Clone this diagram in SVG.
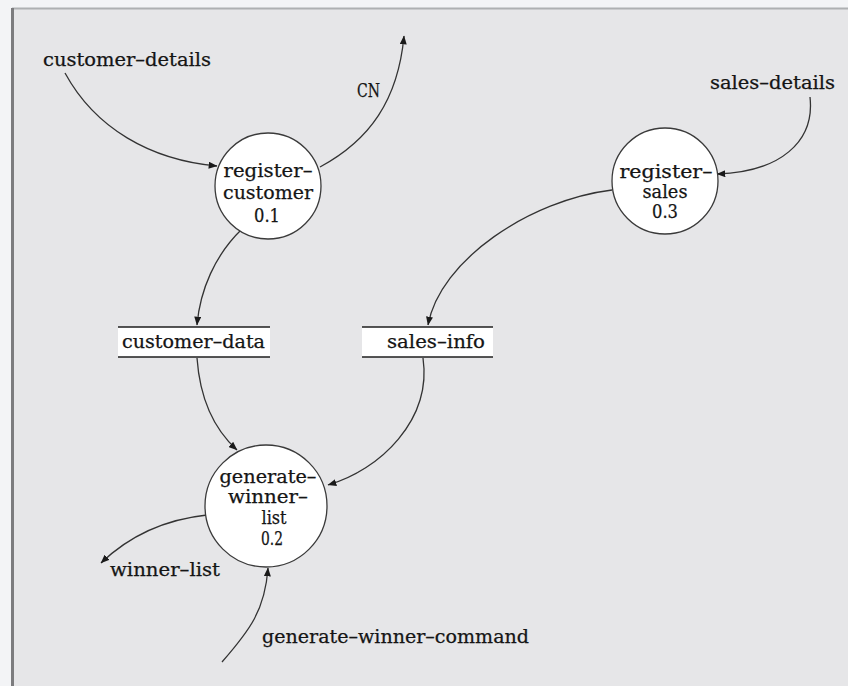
<svg xmlns="http://www.w3.org/2000/svg" width="848" height="686" viewBox="0 0 848 686">
  <defs>
    <marker id="arr" viewBox="0 0 10 8" refX="9.5" refY="4" markerWidth="9" markerHeight="7" markerUnits="userSpaceOnUse" orient="auto">
      <path d="M0,0 L10,4 L0,8 Z" fill="#1a1a1a"/>
    </marker>
    <style>
      text { font-family: "DejaVu Serif", "Liberation Serif", serif; font-size: 18px; fill: #151515; stroke: #151515; stroke-width: 0.25; }
      .c { text-anchor: middle; }
      .proc { fill: #ffffff; stroke: #3a3a3a; stroke-width: 1.3; }
      .store { fill: #ffffff; }
      .sl { stroke: #1e1e1e; stroke-width: 1.6; }
      .flow { fill: none; stroke: #333333; stroke-width: 1.3; marker-end: url(#arr); }
    </style>
  </defs>
  <rect x="0" y="0" width="848" height="686" fill="#f3f4f6"/>
  <rect x="12" y="8" width="836" height="678" fill="#e6e6e8"/>
  <line x1="12" y1="8.5" x2="848" y2="8.5" stroke="#aeb0b2" stroke-width="2"/>
  <line x1="12.5" y1="8" x2="12.5" y2="686" stroke="#7c7c7e" stroke-width="3"/>

  <g id="connectors">
    <path class="flow" d="M65,73 C95,128 150,160 217,166"/>
    <path class="flow" d="M320,167 C370,140 398,100 404,36"/>
    <path class="flow" d="M810,97 C815,142 780,172 717,174"/>
    <path class="flow" d="M242,229 C215,255 200,290 197,325"/>
    <path class="flow" d="M612,190 C530,200 440,260 428,325"/>
    <path class="flow" d="M197,358 C200,400 215,430 237,450"/>
    <path class="flow" d="M423,358 C432,420 380,470 328,485"/>
    <path class="flow" d="M207,515 C160,520 125,540 101,563"/>
    <path class="flow" d="M222,662 C250,630 265,610 268,568"/>
  </g>

  <g id="register-customer">
    <circle class="proc" cx="268" cy="186" r="53"/>
    <text class="c" x="268" y="177" textLength="89" lengthAdjust="spacingAndGlyphs">register–</text>
    <text class="c" x="268" y="199" textLength="90" lengthAdjust="spacingAndGlyphs">customer</text>
    <text class="c" x="267" y="222" textLength="26" lengthAdjust="spacingAndGlyphs">0.1</text>
  </g>

  <g id="register-sales">
    <circle class="proc" cx="665" cy="181" r="53"/>
    <text class="c" x="666" y="178" textLength="93" lengthAdjust="spacingAndGlyphs">register–</text>
    <text class="c" x="665" y="198" textLength="45" lengthAdjust="spacingAndGlyphs">sales</text>
    <text class="c" x="665" y="218" textLength="26" lengthAdjust="spacingAndGlyphs">0.3</text>
  </g>

  <g id="generate-winner-list">
    <circle class="proc" cx="266" cy="506" r="61"/>
    <text class="c" x="268" y="483" textLength="97" lengthAdjust="spacingAndGlyphs">generate–</text>
    <text class="c" x="268" y="503" textLength="80" lengthAdjust="spacingAndGlyphs">winner–</text>
    <text class="c" x="274" y="524" textLength="25" lengthAdjust="spacingAndGlyphs">list</text>
    <text class="c" x="272" y="545" textLength="22" lengthAdjust="spacingAndGlyphs">0.2</text>
  </g>

  <g id="customer-data">
    <rect class="store" x="118" y="327" width="152" height="30"/>
    <line class="sl" x1="118" y1="327" x2="270" y2="327"/>
    <line class="sl" x1="118" y1="357" x2="270" y2="357"/>
    <text x="122" y="348" textLength="143" lengthAdjust="spacingAndGlyphs">customer–data</text>
  </g>

  <g id="sales-info">
    <rect class="store" x="362" y="327" width="131" height="30"/>
    <line class="sl" x1="362" y1="327" x2="493" y2="327"/>
    <line class="sl" x1="362" y1="357" x2="493" y2="357"/>
    <text x="387" y="348" textLength="98" lengthAdjust="spacingAndGlyphs">sales–info</text>
  </g>

  <g id="customer-details">
    <text x="43" y="66" textLength="168" lengthAdjust="spacingAndGlyphs">customer–details</text>
  </g>
  <g id="CN">
    <text x="357" y="97" textLength="23" lengthAdjust="spacingAndGlyphs">CN</text>
  </g>
  <g id="sales-details">
    <text x="710" y="89" textLength="125" lengthAdjust="spacingAndGlyphs">sales–details</text>
  </g>
  <g id="winner-list">
    <text x="110" y="576" textLength="110" lengthAdjust="spacingAndGlyphs">winner–list</text>
  </g>
  <g id="generate-winner-command">
    <text x="262" y="643" textLength="267" lengthAdjust="spacingAndGlyphs">generate–winner–command</text>
  </g>
</svg>
